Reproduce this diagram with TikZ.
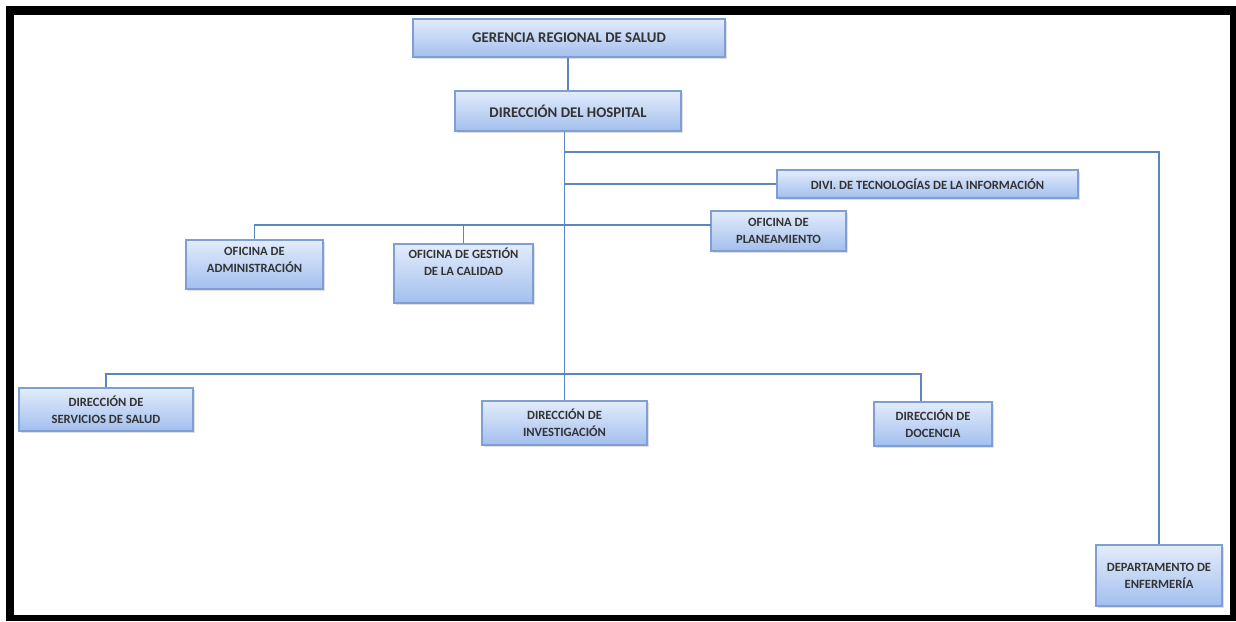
\documentclass[tikz,border=0pt]{standalone}
\usepackage{fontspec}
\setmainfont{Carlito}
\usepackage{tikz}
\usetikzlibrary{shadows}
\usepackage{xcolor}

\definecolor{boxtop}{HTML}{E2ECFB}
\definecolor{boxbot}{HTML}{A3BFEE}
\definecolor{boxline}{HTML}{7F9FD3}
\definecolor{linkblue}{HTML}{5A86C2}

\tikzset{
  box/.style={draw=boxline, line width=0.8pt, top color=boxtop, bottom color=boxbot,
    drop shadow={shadow xshift=0.8pt, shadow yshift=-0.8pt, opacity=0.25},
    inner sep=0pt, align=center, text=black!80,
    font=\fontsize{6.3}{8.5}\selectfont\bfseries},
  bigbox/.style={box, font=\fontsize{7.4}{9}\selectfont\bfseries},
  link/.style={linkblue, line width=0.8pt}
}

\begin{document}
\begin{tikzpicture}[x=0.5pt, y=-0.5pt]

\useasboundingbox (0,0) rectangle (1236,621);
\fill[black] (6,6) rectangle (1236,621);
\fill[white] (14,15) rectangle (1230,615);

% top of the chart
\node (ger) at (569,38) [bigbox, minimum width=156pt, minimum height=19pt] {GERENCIA REGIONAL DE SALUD};
\node (hosp) at (568,111) [bigbox, minimum width=113pt, minimum height=20pt] {DIRECCIÓN DEL HOSPITAL};

% staff offices
\node (divi) at (927.5,184) [box, minimum width=150.5pt, minimum height=14pt] {DIVI. DE TECNOLOGÍAS DE LA INFORMACIÓN};
\node (plan) at (778.5,231) [box, minimum width=67.5pt, minimum height=20pt] {OFICINA DE\\PLANEAMIENTO};
\node (admin) at (254.5,264.5) [box, minimum width=68.5pt, minimum height=24.5pt, text depth=4.5pt] {OFICINA DE\\ADMINISTRACIÓN};
\node (cal) at (463.5,273.5) [box, minimum width=69.5pt, minimum height=29.5pt, text depth=11.5pt] {OFICINA DE GESTIÓN\\DE LA CALIDAD};

% line offices
\node (serv) at (106,409.5) [box, minimum width=87pt, minimum height=21.5pt] {DIRECCIÓN DE\\SERVICIOS DE SALUD};
\node (inv) at (564.5,423) [box, minimum width=82.5pt, minimum height=22pt] {DIRECCIÓN DE\\INVESTIGACIÓN};
\node (doc) at (933,424) [box, minimum width=59pt, minimum height=22pt] {DIRECCIÓN DE\\DOCENCIA};
\node (enf) at (1159,575.5) [box, minimum width=63pt, minimum height=30.5pt] {DEPARTAMENTO DE\\ENFERMERÍA};

\coordinate (j1) at (565,152);
\coordinate (j2) at (711,225);
\coordinate (j3) at (921,374);

\draw[link] (hosp.north) -- (hosp.north |- ger.south);
\draw[link] (inv.north) -- (inv.north |- hosp.south);
\draw[link] (j1) -| (enf.north);
\draw[link] (divi.west) -- (divi.west -| j1);
\draw[link] (admin.north) |- (j2);
\draw[link] (cal.north) -- (cal.north |- j2);
\draw[link] (serv.north) |- (j3) -- (j3 |- doc.north);

\end{tikzpicture}
\end{document}
